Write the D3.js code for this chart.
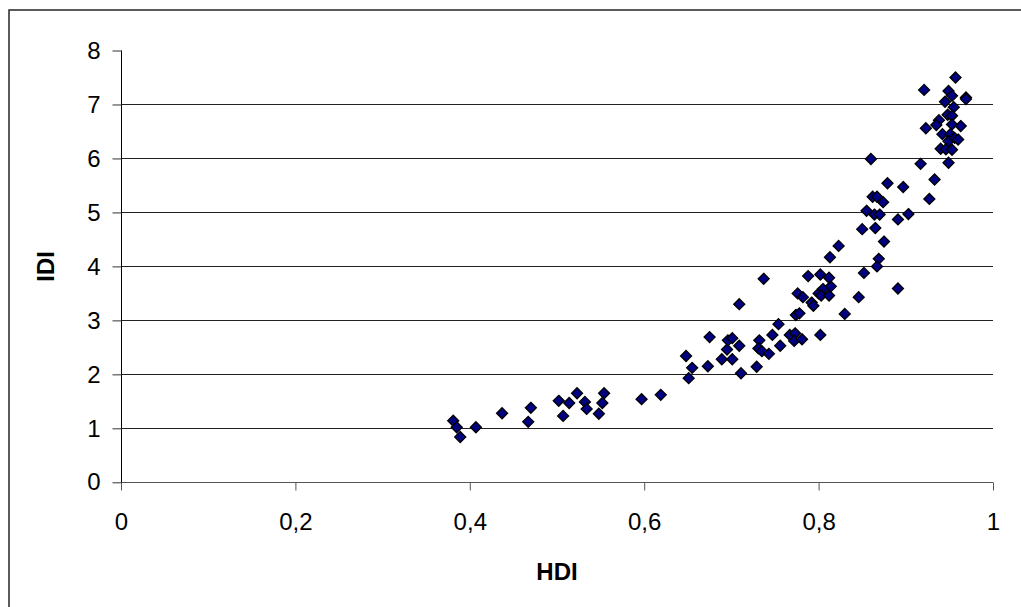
<!DOCTYPE html>
<html>
<head>
<meta charset="utf-8">
<script src="https://cdn.jsdelivr.net/npm/d3@7"></script>
<style>
  html, body { margin: 0; padding: 0; background: #fff; }
  svg { display: block; }
  text { font-family: "Liberation Sans", Arial, sans-serif; fill: #000; }
</style>
</head>
<body>
<svg id="chart" width="1021" height="607"></svg>
<script>
// ---- Data ----
const hdi = [
  0.381, 0.385, 0.389, 0.407, 0.437, 0.467, 0.470, 0.502, 0.507, 0.514,
  0.523, 0.532, 0.534, 0.548, 0.552, 0.554, 0.597, 0.619, 0.648, 0.655,
  0.651, 0.673, 0.675, 0.709, 0.689, 0.701, 0.695, 0.696, 0.701, 0.709,
  0.711, 0.729, 0.732, 0.731, 0.735, 0.743, 0.747, 0.756, 0.754, 0.767,
  0.773, 0.772, 0.781, 0.802, 0.774, 0.778, 0.776, 0.782, 0.792, 0.794,
  0.800, 0.805, 0.803, 0.812, 0.814, 0.737, 0.860, 0.879, 0.897, 0.862,
  0.867, 0.874, 0.855, 0.864, 0.870, 0.891, 0.903, 0.850, 0.865, 0.875,
  0.823, 0.813, 0.869, 0.867, 0.852, 0.891, 0.846, 0.830, 0.788, 0.802,
  0.812, 0.957, 0.921, 0.949, 0.953, 0.969, 0.969, 0.945, 0.955, 0.948,
  0.953, 0.938, 0.935, 0.923, 0.953, 0.963, 0.942, 0.951, 0.949, 0.956,
  0.960, 0.940, 0.946, 0.953, 0.949, 0.917, 0.933, 0.927
];
const idi = [
  1.14, 1.02, 0.84, 1.02, 1.28, 1.12, 1.38, 1.51, 1.23, 1.47,
  1.65, 1.49, 1.36, 1.27, 1.47, 1.65, 1.54, 1.62, 2.34, 2.12,
  1.93, 2.15, 2.69, 3.30, 2.28, 2.28, 2.46, 2.63, 2.67, 2.53,
  2.02, 2.14, 2.63, 2.48, 2.43, 2.38, 2.73, 2.53, 2.93, 2.73,
  2.76, 2.62, 2.65, 2.73, 3.10, 3.13, 3.50, 3.43, 3.33, 3.27,
  3.50, 3.58, 3.46, 3.46, 3.63, 3.77, 5.99, 5.54, 5.47, 5.29,
  5.29, 5.19, 5.03, 4.96, 4.96, 4.87, 4.97, 4.69, 4.71, 4.46,
  4.38, 4.17, 4.14, 4.00, 3.88, 3.59, 3.43, 3.12, 3.82, 3.85,
  3.79, 7.50, 7.27, 7.25, 7.16, 7.13, 7.10, 7.05, 6.95, 6.81,
  6.79, 6.71, 6.62, 6.56, 6.63, 6.60, 6.45, 6.45, 6.32, 6.38,
  6.35, 6.18, 6.17, 6.16, 5.92, 5.90, 5.61, 5.25
];
const xTicks = [0, 0.2, 0.4, 0.6, 0.8, 1];
const xTickLabels = ["0", "0,2", "0,4", "0,6", "0,8", "1"];
const yTicks = [0, 1, 2, 3, 4, 5, 6, 7, 8];
const xTitle = "HDI";
const yTitle = "IDI";

// ---- Layout ----
const svg = d3.select("#chart");
const plot = { left: 121, right: 993, top: 50.5, bottom: 482.3 };

const x = d3.scaleLinear().domain([0, 1]).range([plot.left, plot.right]);
const y = d3.scaleLinear().domain([0, 8]).range([plot.bottom, plot.top]);

// outer frame (right/bottom edges fall outside the picture)
svg.append("rect")
  .attr("x", 9).attr("y", 10)
  .attr("width", 1100).attr("height", 700)
  .attr("fill", "none")
  .attr("stroke", "#333")
  .attr("stroke-width", 1.6);

// horizontal gridlines
svg.append("g")
  .selectAll("line")
  .data(yTicks.filter(t => t > 0 && t < 8))
  .join("line")
  .attr("x1", plot.left).attr("x2", plot.right)
  .attr("y1", d => Math.round(y(d)) + 0.5)
  .attr("y2", d => Math.round(y(d)) + 0.5)
  .attr("stroke", "#222")
  .attr("stroke-width", 1);

// x axis
const xAxis = d3.axisBottom(x)
  .tickValues(xTicks)
  .tickFormat((d, i) => xTickLabels[i])
  .tickSize(8)
  .tickPadding(22);
const gx = svg.append("g")
  .attr("transform", `translate(0,${Math.round(plot.bottom) + 0.5})`)
  .call(xAxis);
gx.select(".domain").attr("stroke", "#555").attr("d", `M${plot.left},0H${plot.right}`);
gx.selectAll(".tick line").attr("stroke", "#555");
gx.selectAll(".tick text")
  .attr("font-family", '"Liberation Sans", Arial, sans-serif')
  .attr("font-size", 24)
  .attr("fill", "#000");

// y axis
const yAxis = d3.axisLeft(y)
  .tickValues(yTicks)
  .tickFormat(d3.format("d"))
  .tickSize(9)
  .tickPadding(12);
const gy = svg.append("g")
  .attr("transform", `translate(${Math.round(plot.left) + 0.5},0)`)
  .call(yAxis);
gy.select(".domain").attr("stroke", "#000").attr("d", `M0,${plot.top}V${plot.bottom}`);
gy.selectAll(".tick line").attr("stroke", "#333");
gy.selectAll(".tick text")
  .attr("font-family", '"Liberation Sans", Arial, sans-serif')
  .attr("font-size", 24)
  .attr("fill", "#000");

// axis titles
svg.append("text")
  .attr("x", (plot.left + plot.right) / 2)
  .attr("y", 580)
  .attr("text-anchor", "middle")
  .attr("font-size", 24)
  .attr("font-weight", "bold")
  .text(xTitle);

svg.append("text")
  .attr("transform", `translate(54,${y(4)}) rotate(-90)`)
  .attr("text-anchor", "middle")
  .attr("font-size", 24)
  .attr("font-weight", "bold")
  .text(yTitle);

// points (diamonds)
const r = 5.5;
const diamond = `M0,${-r}L${r},0L0,${r}L${-r},0Z`;
const pts = hdi.map((h, i) => ({ h, v: idi[i] }));
svg.append("g")
  .selectAll("path")
  .data(pts)
  .join("path")
  .attr("d", diamond)
  .attr("transform", d => `translate(${x(d.h)},${y(d.v)})`)
  .attr("fill", "#000080")
  .attr("stroke", "#000")
  .attr("stroke-width", 1.3);
</script>
</body>
</html>
